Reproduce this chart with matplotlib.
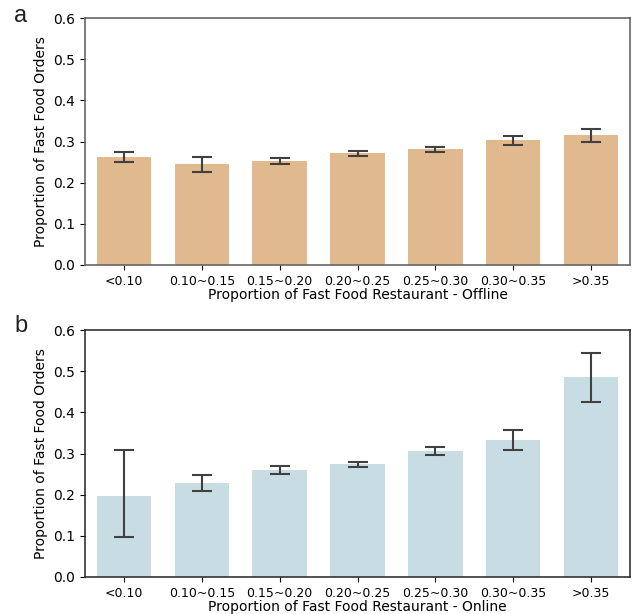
import numpy as np
import matplotlib
matplotlib.use('Agg')
import matplotlib.pyplot as plt

categories = ['<0.10', '0.10~0.15', '0.15~0.20', '0.20~0.25', '0.25~0.30', '0.30~0.35', '>0.35']

# offline panel
offline_mean = [0.262, 0.245, 0.253, 0.272, 0.282, 0.304, 0.316]
offline_low = [0.249, 0.227, 0.245, 0.264, 0.274, 0.292, 0.298]
offline_high = [0.275, 0.262, 0.261, 0.278, 0.287, 0.313, 0.331]

# online panel
online_mean = [0.196, 0.228, 0.260, 0.274, 0.306, 0.333, 0.486]
online_low = [0.097, 0.208, 0.251, 0.267, 0.296, 0.308, 0.425]
online_high = [0.309, 0.248, 0.270, 0.280, 0.315, 0.358, 0.545]

y_ticks = [0.0, 0.1, 0.2, 0.3, 0.4, 0.5, 0.6]


def draw_panel(ax, mean, low, high, color, xlabel, spine_color):
    x = np.arange(len(categories))
    mean = np.array(mean)
    yerr = [mean - np.array(low), np.array(high) - mean]
    ax.bar(x, mean, width=0.7, color=color)
    ax.errorbar(x, mean, yerr=yerr, fmt='none', ecolor='#404040',
                elinewidth=1.5, capsize=7, capthick=1.5)
    ax.set_xlim(-0.5, 6.5)
    ax.set_ylim(0, 0.6)
    ax.set_xticks(x)
    ax.set_xticklabels(categories, fontsize=9)
    ax.set_yticks(y_ticks)
    ax.set_yticklabels(['%.1f' % t for t in y_ticks], fontsize=10)
    ax.set_xlabel(xlabel, fontsize=10, labelpad=0)
    ax.set_ylabel('Proportion of Fast Food Orders', fontsize=10)
    for s in ax.spines.values():
        s.set_color(spine_color)
        s.set_linewidth(1.2)


fig = plt.figure(figsize=(6.32, 6.14), dpi=100)
ax1 = fig.add_axes([85 / 632, 1 - 265 / 614, 545 / 632, 247 / 614])
ax2 = fig.add_axes([85 / 632, 1 - 577 / 614, 545 / 632, 247 / 614])

draw_panel(ax1, offline_mean, offline_low, offline_high, '#E0BA8E',
           'Proportion of Fast Food Restaurant - Offline', '#666666')
draw_panel(ax2, online_mean, online_low, online_high, '#C8DDE3',
           'Proportion of Fast Food Restaurant - Online', '#333333')

fig.text(21 / 632, 1 - 16 / 614, 'a', fontsize=17, ha='center', va='center',
         family='Liberation Sans', color='#222222')
fig.text(21 / 632, 1 - 326 / 614, 'b', fontsize=17, ha='center', va='center',
         family='Liberation Sans', color='#222222')

fig.savefig('out.png', dpi=100)
